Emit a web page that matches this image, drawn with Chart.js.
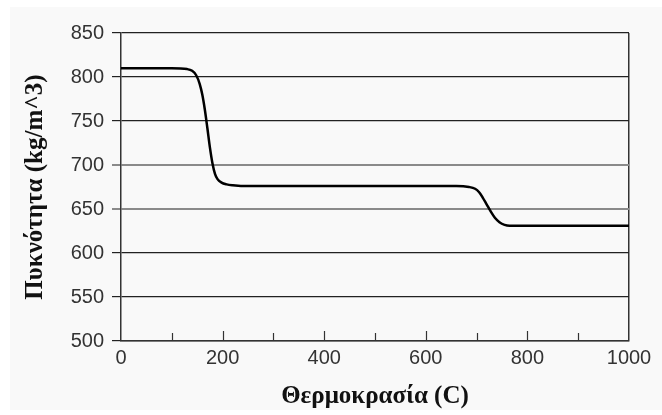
<!DOCTYPE html>
<html>
<head>
<meta charset="utf-8">
<script src="https://cdn.jsdelivr.net/npm/chart.js@4.4.0/dist/chart.umd.min.js"></script>
<style>
  body { margin: 0; background: #ffffff; }
  #wrap { width: 662px; height: 415px; }
</style>
</head>
<body>
<div id="wrap"><canvas id="densityChart" width="662" height="415"></canvas></div>
<script>
// Temperature (C) and density (kg/m^3)
const temps = [0, 50, 100, 130, 140, 148, 155, 160, 165, 170, 175, 180, 185, 190, 198, 208, 220, 250,
               400, 600, 660, 685, 697, 705, 712, 720, 728, 736, 745, 755, 765, 800, 900, 1000];
const density = [810, 810, 810, 809, 807, 802, 792, 780, 763, 742, 720, 702, 690, 684, 680, 678, 677, 676,
                 676, 676, 676, 675, 673, 669, 663, 655, 647, 640, 635, 632, 631, 631, 631, 631];

const yTicks = [500, 550, 600, 650, 700, 750, 800, 850];
const xTicks = [0, 200, 400, 600, 800, 1000];
const xMinorTicks = [100, 200, 300, 400, 500, 600, 700, 800, 900];

const xLabel = 'Θερμοκρασία (C)';
const yLabel = 'Πυκνότητα (kg/m^3)';

// grid lines in the scan come out alternately dark and light
function gridColor(v) {
    if (v === 700 || v === 650) return '#8a8a8a';
    return '#222222';
}

// page background and the small inward ticks on the x axis
const decor = {
    id: 'decor',
    beforeDraw(chart) {
        const ctx = chart.ctx;
        ctx.save();
        ctx.fillStyle = '#f9f9f9';
        ctx.fillRect(10, 7, 652, 403);
        ctx.restore();
    },
    afterDatasetsDraw(chart) {
        const ctx = chart.ctx;
        const xs = chart.scales.x;
        const bottom = chart.chartArea.bottom;
        ctx.save();
        ctx.strokeStyle = '#333';
        ctx.lineWidth = 1.2;
        xMinorTicks.forEach(v => {
            const px = Math.round(xs.getPixelForValue(v)) + 0.5;
            const len = (v % 200 === 0) ? 10 : 8;
            ctx.beginPath();
            ctx.moveTo(px, bottom);
            ctx.lineTo(px, bottom - len);
            ctx.stroke();
        });
        ctx.restore();
    }
};

window.onload = () => {
    const ctx = document.getElementById('densityChart').getContext('2d');
    new Chart(ctx, {
        type: 'line',
        data: {
            datasets: [{
                data: temps.map((t, i) => ({ x: t, y: density[i] })),
                borderColor: '#000',
                borderWidth: 2.5,
                pointRadius: 0,
                cubicInterpolationMode: 'monotone',
                fill: false
            }]
        },
        options: {
            responsive: false,
            animation: false,
            layout: { padding: { left: 21, top: 33, right: 33, bottom: 3 } },
            plugins: { legend: { display: false }, tooltip: { enabled: false } },
            scales: {
                x: {
                    type: 'linear',
                    min: 0,
                    max: 1000,
                    afterBuildTicks: s => { s.ticks = xTicks.map(v => ({ value: v })); },
                    afterFit: s => { s.height = 71; },
                    grid: {
                        drawTicks: false,
                        color: c => (c.tick && c.tick.value === 1000) ? '#333' : 'rgba(0,0,0,0)',
                        lineWidth: 1.5
                    },
                    border: { color: '#333', width: 1.5 },
                    ticks: {
                        padding: 5,
                        color: '#333',
                        font: { family: 'Liberation Sans', size: 20 },
                        callback: v => String(v)
                    },
                    title: {
                        display: true,
                        text: xLabel,
                        color: '#111',
                        padding: 0,
                        font: { family: 'Liberation Serif', size: 25, weight: 'bold' }
                    }
                },
                y: {
                    min: 500,
                    max: 850,
                    afterBuildTicks: s => { s.ticks = yTicks.map(v => ({ value: v })); },
                    afterFit: s => { s.width = 121 - 21; },
                    grid: {
                        color: c => gridColor(c.tick ? c.tick.value : 0),
                        lineWidth: c => (c.tick && (c.tick.value === 700 || c.tick.value === 650)) ? 2 : 1.2,
                        tickLength: 9
                    },
                    border: { color: '#333', width: 1.5 },
                    ticks: {
                        padding: 8,
                        color: '#333',
                        font: { family: 'Liberation Sans', size: 20 }
                    },
                    title: {
                        display: true,
                        text: yLabel,
                        color: '#111',
                        padding: 0,
                        font: { family: 'Liberation Serif', size: 25, weight: 'bold' }
                    }
                }
            }
        },
        plugins: [decor]
    });
};
</script>
</body>
</html>
